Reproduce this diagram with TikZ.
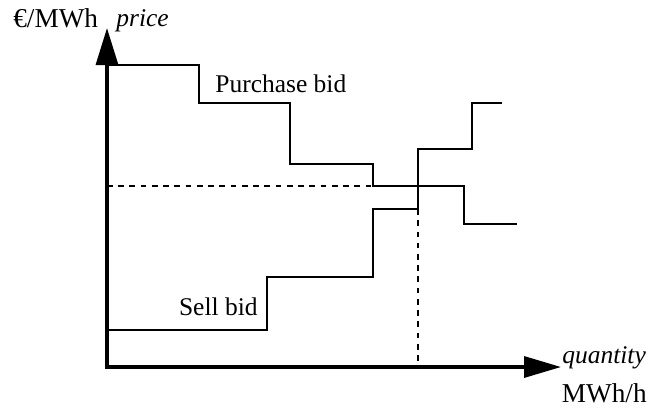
\documentclass[tikz,border=0pt]{standalone}
\usepackage{fontspec}
\setmainfont{Liberation Serif}
\usetikzlibrary{arrows.meta}

\begin{document}
\begin{tikzpicture}[x=0.2mm,y=-0.2mm,
    axis/.style={line width=1.9pt,{Triangle[length=7.4mm,width=4.4mm]}-{Triangle[length=7.4mm,width=4.2mm]}},
    bid/.style={line width=0.6pt},
    guide/.style={line width=0.6pt,dash pattern=on 3.2pt off 3.2pt},
    lbl/.style={font=\fontsize{14.5}{17}\selectfont,inner sep=0pt},
    unit/.style={font=\fontsize{15.5}{18}\selectfont,inner sep=0pt}]
    \useasboundingbox (0,0) rectangle (648,407);
    \coordinate (ytip) at (107,28);
    \coordinate (xtip) at (561,367);
    \coordinate (eqx) at (418,367);
    \coordinate (eqy) at (107,186);
    % axes
    \draw[axis] (ytip) |- (xtip);
    \node[unit,anchor=base west] (yunit) at (13,27) {€/MWh};
    \node[lbl,anchor=base west] (ylabel) at (116,26) {\itshape price};
    \node[lbl,anchor=base west] (xlabel) at (562,363) {\itshape quantity};
    \node[unit,anchor=base east] (xunit) at (647,402) {MWh/h};
    % bids
    \draw[bid] (107,65) -| (199,103) -| (290,164) -| (373,186) -| (464,224) -- (517,224);
    \draw[bid] (107,330) -| (267,277) -| (373,209) -| (418,149) -| (472,103) -- (502,103);
    \node[lbl,anchor=base west] (buy) at (215,92) {Purchase bid};
    \node[lbl,anchor=base east] (sell) at (258,315) {Sell bid};
    % equilibrium
    \draw[guide] (eqy) -- (373,186);
    \draw[guide] (418,209) -- (eqx);
\end{tikzpicture}
\end{document}
